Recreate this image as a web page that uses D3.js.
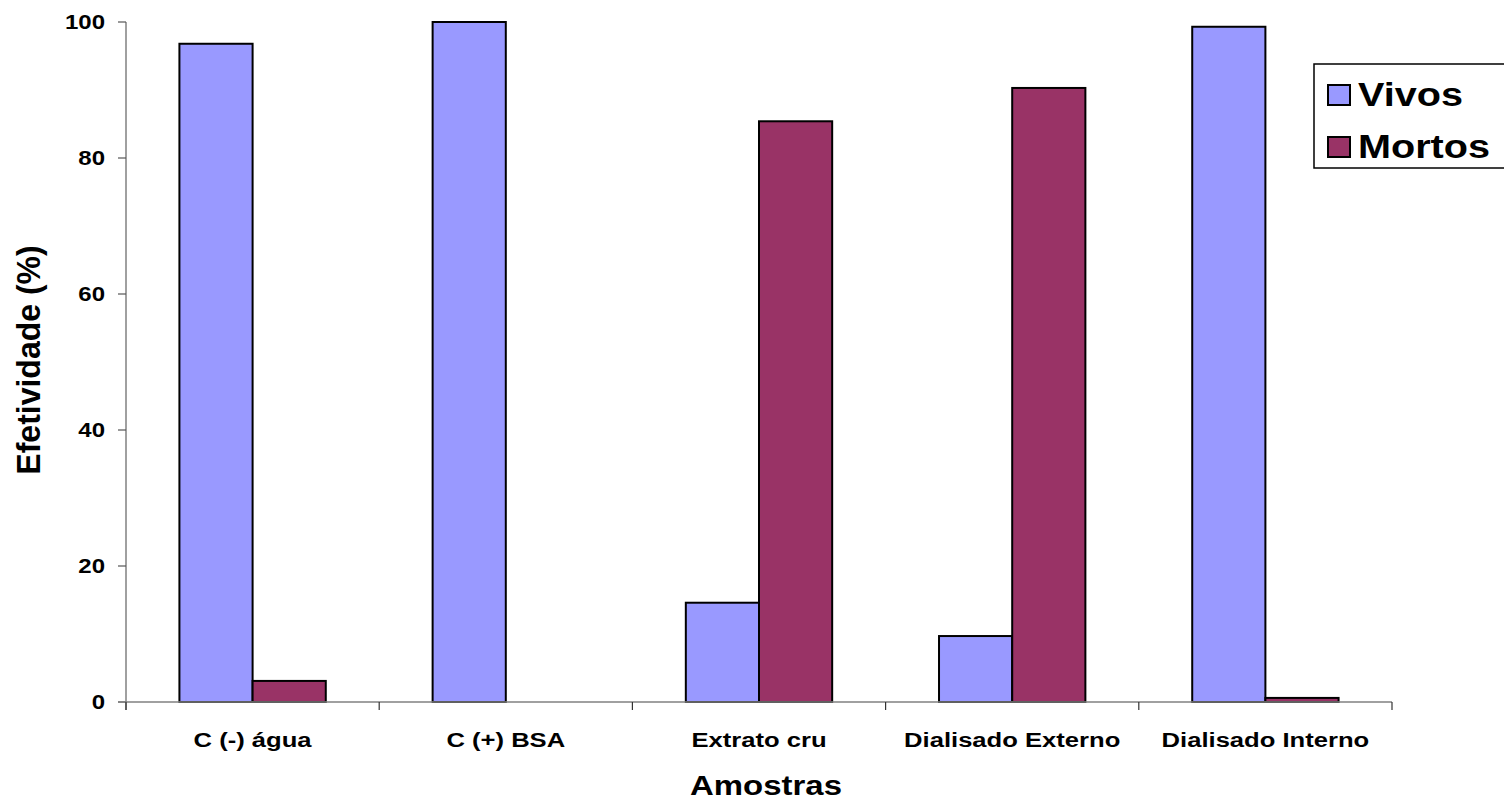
<!DOCTYPE html>
<html><head><meta charset="utf-8">
<script src="https://cdn.jsdelivr.net/npm/d3@7"></script>
<style>body{margin:0;background:#fff}svg{display:block}text{font-family:Arial,"Liberation Sans",sans-serif;font-weight:bold;fill:#000}</style>
</head><body><svg id="c" width="1504" height="802"></svg>
<script>
const categories = ["C (-) água","C (+) BSA","Extrato cru","Dialisado Externo","Dialisado Interno"];
const seriesNames = ["Vivos","Mortos"];
const vivos = [96.8, 100, 14.6, 9.7, 99.3];
const mortos = [3.1, 0, 85.4, 90.3, 0.6];
const yTicks = [0,20,40,60,80,100];
const colors = ["#9999FF","#993366"];

const svg = d3.select("#c");
const L=126, R=1392, T=22, B=702;
const x = d3.scaleBand().domain(categories).range([L,R]).paddingInner(0).paddingOuter(0);
const y = d3.scaleLinear().domain([0,100]).range([B,T]);
const inner = d3.scaleBand().domain(seriesNames).range([0,x.bandwidth()]).paddingOuter(0.73).paddingInner(0);

function txt(g, tx, ty, s, size, anchor, sx){
  return g.append("text").attr("transform",`translate(${tx},${ty}) scale(${sx},1)`)
    .attr("text-anchor",anchor||"start").style("font-size",size+"px").text(s);
}

const data = categories.map((c,i)=>({c, vals:[vivos[i],mortos[i]]}));
const g = svg.append("g");
data.forEach(d=>{
  d.vals.forEach((v,j)=>{
    if(v<=0) return;
    g.append("rect").attr("x",x(d.c)+inner(seriesNames[j])).attr("y",y(v))
     .attr("width",inner.bandwidth()).attr("height",y(0)-y(v))
     .attr("fill",colors[j]).attr("stroke","#000").attr("stroke-width",2);
  });
});

// Y axis
svg.append("line").attr("x1",L).attr("x2",L).attr("y1",T).attr("y2",B+8).attr("stroke","#808080").attr("stroke-width",1.5);
yTicks.forEach(t=>{
  svg.append("line").attr("x1",L-8).attr("x2",L).attr("y1",y(t)).attr("y2",y(t)).attr("stroke","#555").attr("stroke-width",1.2);
  txt(svg, 105, y(t)+7, String(t), 20, "end", 1.2);
});

// X axis
svg.append("line").attr("x1",L-8).attr("x2",R).attr("y1",B).attr("y2",B).attr("stroke","#808080").attr("stroke-width",1.5);
const bounds = categories.map(c=>x(c)).concat([R]);
bounds.forEach(b=>{
  svg.append("line").attr("x1",b).attr("x2",b).attr("y1",B).attr("y2",B+8).attr("stroke","#333").attr("stroke-width",1.2);
});
categories.forEach(c=>txt(svg, x(c)+x.bandwidth()/2, 747, c, 21, "middle", 1.22));

txt(svg, 766, 795, "Amostras", 27, "middle", 1.22);
svg.append("text").attr("transform",`translate(40,360) rotate(-90) scale(1,1.05)`).attr("text-anchor","middle").style("font-size","32px").text("Efetividade (%)");

// Legend
const lg = svg.append("g");
lg.append("rect").attr("x",1314).attr("y",64).attr("width",196).attr("height",104).attr("fill","#fff").attr("stroke","#000").attr("stroke-width",1.5);
seriesNames.forEach((s,i)=>{
  const yy = 85 + i*52;
  lg.append("rect").attr("x",1328).attr("y",yy).attr("width",22).attr("height",20).attr("fill",colors[i]).attr("stroke","#000").attr("stroke-width",2);
  txt(lg, 1358, yy+21, s, 33, "start", 1.2);
});
</script></body></html>
